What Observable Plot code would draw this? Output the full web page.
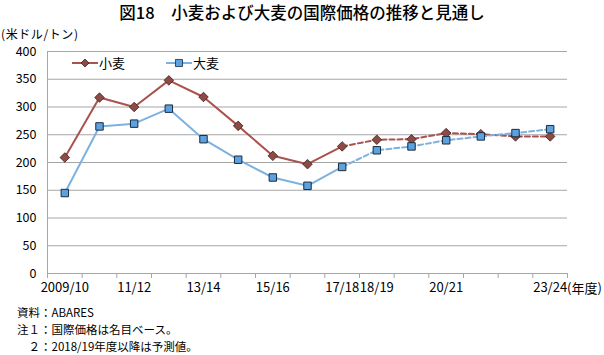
<!DOCTYPE html>
<html><head><meta charset="utf-8">
<script src="https://cdn.jsdelivr.net/npm/d3@7"></script>
<script src="https://cdn.jsdelivr.net/npm/@observablehq/plot@0.6"></script>
<style>
body{margin:0;background:#fff;}
#wrap{position:relative;width:604px;height:355px;overflow:hidden;font-family:"Noto Sans CJK JP","Noto Sans",sans-serif;color:#000;}
#title{position:absolute;left:0;width:604px;top:2px;line-height:20px;text-align:center;font-size:16.5px;font-weight:500;}
#unit{position:absolute;left:1px;top:28px;line-height:12px;font-size:12px;letter-spacing:0.6px;}
#chart{position:absolute;left:0;top:40px;}
.note{position:absolute;left:17px;font-size:11.5px;line-height:12px;white-space:nowrap;}
#nendo{position:absolute;left:567px;top:281px;line-height:14px;font-size:13px;}
.lg{position:absolute;top:54px;font-size:13px;line-height:18px;}
.sw{position:absolute;top:57px;}
</style>
</head><body>
<div id="wrap">
  <div id="title">図18　小麦および大麦の国際価格の推移と見通し</div>
  <div id="unit">(米ドル/トン)</div>
  <div id="chart"></div>
  <div id="nendo">(年度)</div>
  <div class="note" style="top:306px">資料：ABARES</div>
  <div class="note" style="top:323px">注１：国際価格は名目ベース。</div>
  <div class="note" style="top:340px">　２：2018/19年度以降は予測値。</div>
</div>
<script>
const categories = ["2009/10","10/11","11/12","12/13","13/14","14/15","15/16","16/17","17/18","18/19","19/20","20/21","21/22","22/23","23/24"];
const wheat  = [209,317,300,348,318,266,212,197,229,241,242,253,251,247,247];
const barley = [145,265,270,297,242,205,173,158,192,222,229,240,247,253,260];
const shownLabels = ["2009/10","11/12","13/14","15/16","17/18","18/19","20/21","23/24"];
const forecastFrom = "17/18";
const yTicks = [0,50,100,150,200,250,300,350,400];
const seriesNames = ["小麦","大麦"];

const wheatLine = "#a9524e", wheatFill = "#8e4a44", wheatStroke = "#3a201d";
const barleyLine = "#7db1df", barleyFill = "#5ba2e0", barleyStroke = "#1b2a3c";
const gridColor = "#a6a6a6";

const rows = categories.map((c, i) => ({i, cat: c, wheat: wheat[i], barley: barley[i]}));
const fi = categories.indexOf(forecastFrom);
const hist = rows.filter(d => d.i <= fi);
const fore = rows.filter(d => d.i >= fi);
const xDomain = [-0.5, categories.length - 0.5];
const boundaries = d3.range(categories.length + 1).map(k => k - 0.5);
const labelIdx = shownLabels.map(l => categories.indexOf(l));

const chart = Plot.plot({
  width: 604, height: 260,
  marginLeft: 47, marginRight: 37, marginTop: 11, marginBottom: 27,
  style: {fontFamily: '"Noto Sans CJK JP","Noto Sans",sans-serif', fontSize: "12.5px", color: "#000", background: "transparent"},
  x: {domain: xDomain},
  y: {domain: [0, 400]},
  marks: [
    Plot.gridY(yTicks.filter(t => t > 0), {stroke: gridColor, strokeOpacity: 1}),
    Plot.ruleX([xDomain[0]], {stroke: gridColor}),
    Plot.ruleY([0], {stroke: gridColor}),
    Plot.axisX(boundaries, {tickFormat: () => "", tickSize: 5, stroke: gridColor, label: null}),
    Plot.axisX(labelIdx, {tickFormat: i => categories[i], tickSize: 0, tickPadding: 9, fontSize: 13, label: null}),
    Plot.axisY(yTicks, {tickSize: 0, tickPadding: 11, fontSize: 12.5, label: null}),
    Plot.line(hist, {x: "i", y: "wheat", stroke: wheatLine, strokeWidth: 2}),
    Plot.line(fore, {x: "i", y: "wheat", stroke: wheatLine, strokeWidth: 2, strokeDasharray: "5,3"}),
    Plot.dot(rows, {x: "i", y: "wheat", symbol: "diamond2", r: 4.3, fill: wheatFill, stroke: wheatStroke, strokeWidth: 0.8}),
    Plot.line(hist, {x: "i", y: "barley", stroke: barleyLine, strokeWidth: 2}),
    Plot.line(fore, {x: "i", y: "barley", stroke: barleyLine, strokeWidth: 2, strokeDasharray: "5,3"}),
    Plot.dot(rows, {x: "i", y: "barley", symbol: "square", r: 4.2, fill: barleyFill, stroke: barleyStroke, strokeWidth: 1})
  ]
});
document.getElementById("chart").appendChild(chart);

// legend
const wrap = document.getElementById("wrap");
function swatch(left, lineColor, fill, stroke, shape) {
  const s = d3.create("svg").attr("class", "sw").attr("width", 26).attr("height", 12)
    .style("left", left + "px");
  s.append("line").attr("x1", 0).attr("x2", 26).attr("y1", 6).attr("y2", 6)
    .attr("stroke", lineColor).attr("stroke-width", 2);
  s.append("path").attr("transform", "translate(13,6)")
    .attr("d", d3.symbol(shape, shape === d3.symbolSquare ? 50 : 40)())
    .attr("fill", fill).attr("stroke", stroke).attr("stroke-width", 0.8);
  wrap.appendChild(s.node());
}
function label(left, text) {
  const d = document.createElement("div");
  d.className = "lg"; d.style.left = left + "px"; d.textContent = text;
  wrap.appendChild(d);
}
swatch(72, wheatLine, wheatFill, wheatStroke, d3.symbolDiamond2);
label(99, seriesNames[0]);
swatch(166, barleyLine, barleyFill, barleyStroke, d3.symbolSquare);
label(193, seriesNames[1]);
</script>
</body></html>
